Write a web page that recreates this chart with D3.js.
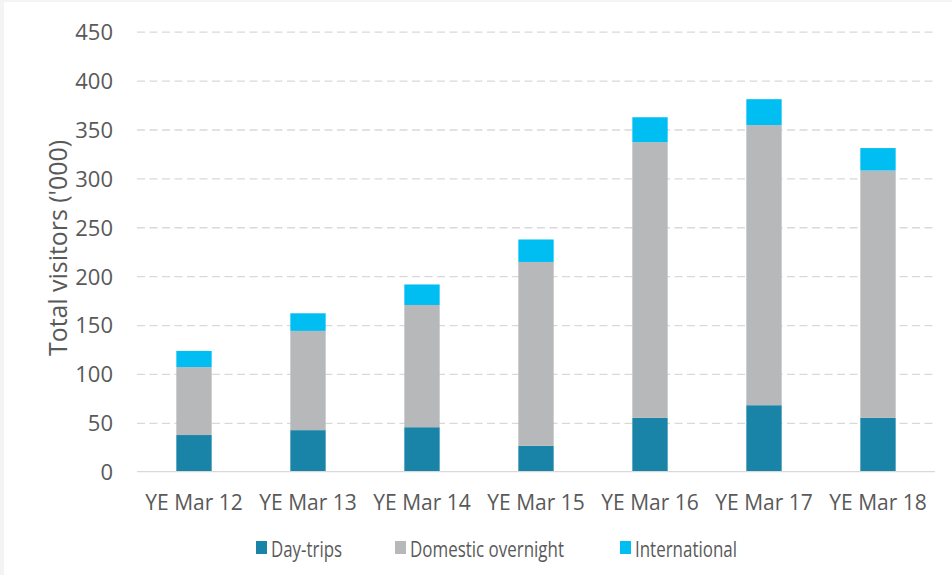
<!DOCTYPE html>
<html>
<head>
<meta charset="utf-8">
<script src="https://cdn.jsdelivr.net/npm/d3@7"></script>
<style>
  body { margin: 0; background: #f4f4f4; }
  #chart { position: absolute; left: 4px; top: 2px; }
  text { font-family: "Open Sans", sans-serif; fill: #595959; }
  .grid line { stroke: #d9d9d9; stroke-width: 1.3; stroke-dasharray: 8 4.5; }
</style>
</head>
<body>
<div id="chart"></div>
<script>
const categories = ["YE Mar 12", "YE Mar 13", "YE Mar 14", "YE Mar 15", "YE Mar 16", "YE Mar 17", "YE Mar 18"];
const dayTrips = [37.5, 42.5, 45.5, 26.5, 55, 68, 55];
const domesticOvernight = [69.5, 101.5, 125, 188, 282, 286.5, 253];
const international = [16.5, 18, 21, 23, 25.5, 26.5, 23];
const yTicks = [0, 50, 100, 150, 200, 250, 300, 350, 400, 450];

const seriesKeys = ["Day-trips", "Domestic overnight", "International"];
const seriesColors = ["#1a83a8", "#b7b8ba", "#00bef2"];

const width = 948, height = 573;
const margin = { top: 29.7, right: 17, bottom: 103.3, left: 133 };
const innerW = width - margin.left - margin.right;
const innerH = height - margin.top - margin.bottom;

const rows = categories.map((c, i) => ({
  cat: c,
  "Day-trips": dayTrips[i],
  "Domestic overnight": domesticOvernight[i],
  "International": international[i]
}));

const svg = d3.select("#chart")
  .append("svg")
  .attr("width", width)
  .attr("height", height)
  .style("background", "#fff");

const g = svg.append("g")
  .attr("transform", `translate(${margin.left}, ${margin.top})`);

const x = d3.scaleBand().domain(categories).range([0, innerW]).paddingInner(0.69).paddingOuter(0.345);
const y = d3.scaleLinear().domain([0, 450]).range([innerH, 0]);
const color = d3.scaleOrdinal().domain(seriesKeys).range(seriesColors);

// dashed grid
g.append("g")
  .attr("class", "grid")
  .call(d3.axisLeft(y).tickValues(yTicks.slice(1)).tickSize(-innerW).tickFormat(""))
  .call((s) => s.select(".domain").remove());

// y tick labels
g.append("g")
  .call(d3.axisLeft(y).tickValues(yTicks).tickSize(0).tickPadding(24))
  .call((s) => s.select(".domain").remove())
  .call((s) => s.selectAll("text").style("font-size", "22px").attr("dy", "0.36em"));

const stack = d3.stack().keys(seriesKeys);
const stacked = stack(rows);

g.append("g")
  .selectAll("g")
  .data(stacked)
  .join("g")
  .attr("fill", (d) => color(d.key))
  .selectAll("rect")
  .data((d) => d)
  .join("rect")
  .attr("x", (d) => x(d.data.cat))
  .attr("y", (d) => y(d[1]))
  .attr("width", x.bandwidth())
  .attr("height", (d) => y(d[0]) - y(d[1]));

// baseline
g.append("line")
  .attr("x1", 0).attr("x2", innerW)
  .attr("y1", y(0)).attr("y2", y(0))
  .attr("stroke", "#d9d9d9").attr("stroke-width", 1.3);

// x labels
g.append("g")
  .attr("transform", `translate(0, ${innerH})`)
  .call(d3.axisBottom(x).tickSize(0).tickPadding(23))
  .call((s) => s.select(".domain").remove())
  .call((s) => s.selectAll("text").style("font-size", "21px"));

// y axis title
g.append("text")
  .attr("transform", `translate(${-70}, ${248 - 2 - margin.top}) rotate(-90)`)
  .attr("text-anchor", "middle")
  .attr("textLength", 216)
  .attr("lengthAdjust", "spacingAndGlyphs")
  .style("font-size", "25px")
  .text("Total visitors ('000)");

// legend
const legendX = [252, 391, 616];
const legendW = [71, 154, 102];
const legend = svg.append("g").attr("transform", "translate(0, 539)");
seriesKeys.forEach((k, i) => {
  legend.append("rect")
    .attr("x", legendX[i]).attr("y", 0)
    .attr("width", 11).attr("height", 13)
    .attr("fill", color(k));
  legend.append("text")
    .attr("x", legendX[i] + 15).attr("y", 15.5)
    .attr("textLength", legendW[i])
    .attr("lengthAdjust", "spacingAndGlyphs")
    .style("font-size", "21px")
    .text(k);
});
</script>
</body>
</html>
